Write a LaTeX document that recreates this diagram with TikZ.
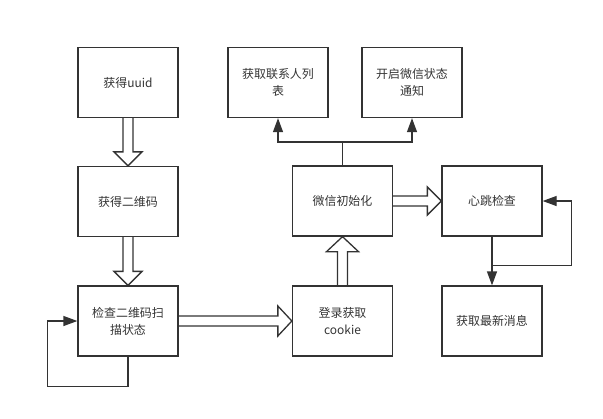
\documentclass[tikz,border=0pt]{standalone}
\usepackage{fontspec}
\setmainfont{Noto Sans CJK SC}
\usetikzlibrary{arrows.meta,calc}
\definecolor{ink}{HTML}{333333}
\begin{document}
\begin{tikzpicture}[x=1bp,y=-1bp,
  box/.style={draw=ink,line width=1.3bp,minimum width=100bp,minimum height=70bp,
    inner sep=2bp,align=center,text=ink,font=\fontsize{12}{17}\selectfont},
  hol/.style={draw=ink,line width=1.3bp,line join=miter},
  arr/.style={draw=ink,line width=1.3bp,-{Triangle[length=14bp,width=10bp]}},
  ln/.style={draw=ink,line width=1.3bp}]
\useasboundingbox (0,0) rectangle (603,418);
\node[box] (uuid) at (128,82.5) {获得uuid};
\node[box] (qr) at (128,201.5) {获得二维码};
\node[box] (check) at (128,321) {检查二维码扫\\描状态};
\node[box] (login) at (342.5,321) {登录获取\\cookie};
\node[box] (init) at (342.5,201) {微信初始化};
\node[box] (contacts) at (278,82.5) {获取联系人列\\表};
\node[box] (notify) at (412,82.5) {开启微信状态\\通知};
\node[box] (heart) at (492,201) {心跳检查};
\node[box] (msg) at (492,321) {获取最新消息};
% hollow arrows
\draw[hol] ($(uuid.south)+(-5,0)$) -- ($(qr.north)+(-5,-14)$) -- ($(qr.north)+(-14,-14)$) -- (qr.north)
  -- ($(qr.north)+(14,-14)$) -- ($(qr.north)+(5,-14)$) -- ($(uuid.south)+(5,0)$);
\draw[hol] ($(qr.south)+(-5,0)$) -- ($(check.north)+(-5,-14)$) -- ($(check.north)+(-14,-14)$) -- (check.north)
  -- ($(check.north)+(14,-14)$) -- ($(check.north)+(5,-14)$) -- ($(qr.south)+(5,0)$);
\draw[hol] ($(check.east)+(0,-5)$) -- ($(login.west)+(-14,-5)$) -- ($(login.west)+(-14,-15)$) -- (login.west)
  -- ($(login.west)+(-14,15)$) -- ($(login.west)+(-14,5)$) -- ($(check.east)+(0,5)$);
\draw[hol] ($(login.north)+(-5,0)$) -- ($(init.south)+(-5,15)$) -- ($(init.south)+(-16,15)$) -- (init.south)
  -- ($(init.south)+(16,15)$) -- ($(init.south)+(5,15)$) -- ($(login.north)+(5,0)$);
\draw[hol] ($(init.east)+(0,-5)$) -- ($(heart.west)+(-14,-5)$) -- ($(heart.west)+(-14,-14)$) -- (heart.west)
  -- ($(heart.west)+(-14,14)$) -- ($(heart.west)+(-14,5)$) -- ($(init.east)+(0,5)$);
% loop on check
\draw[arr] (check.south) -- ++(0,29.7) -| ([xshift=-30bp]check.west) -- (check.west);
% fork from init
\draw[ln] (init.north) -- ++(0,-23.3) coordinate (fk);
\draw[arr] (fk) -| (contacts.south);
\draw[arr] (fk) -| (notify.south);
% heart
\draw[arr] (heart.south) -- (msg.north);
\coordinate (br) at ($(heart.south)!0.594!(msg.north)$);
\draw[arr] (br) -- ++(79.5,0) |- (heart.east);
\end{tikzpicture}
\end{document}
